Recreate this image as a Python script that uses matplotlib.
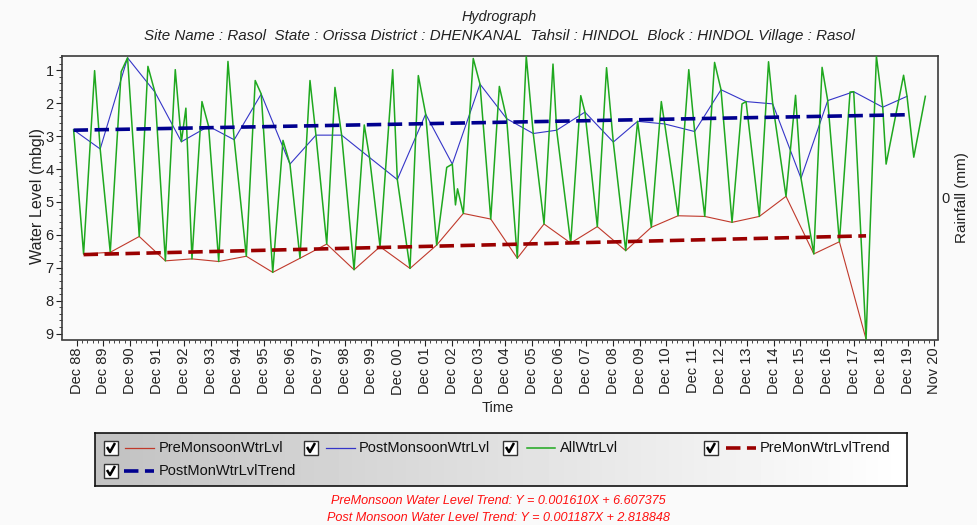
import numpy as np
import pandas as pd
import matplotlib
matplotlib.use("Agg")
import matplotlib.pyplot as plt
from matplotlib.lines import Line2D
from matplotlib.patches import Rectangle

# ---------------- data ----------------
post_dates = ["1988-10-21", "1989-10-18", "1990-10-26", "1991-11-02", "1992-10-29", "1993-11-03",
              "1994-10-18", "1995-10-21", "1996-11-16", "1997-11-05", "1998-10-21", "1999-11-05",
              "2000-11-18", "2001-12-09", "2002-12-07", "2003-12-19", "2004-12-17", "2005-12-14",
              "2006-10-29", "2007-11-18", "2008-12-09", "2009-11-05", "2010-11-09", "2011-12-22",
              "2012-12-16", "2013-11-22", "2014-11-20", "2015-12-10", "2016-12-09", "2017-11-28",
              "2018-12-28", "2019-11-24"]
post_vals = [2.81, 3.39, 0.62, 1.66, 3.17, 2.70, 3.11, 1.72, 3.85, 2.97, 2.97, 3.65,
             4.32, 2.33, 3.85, 1.42, 2.47, 2.92, 2.82, 2.27, 3.18, 2.55, 2.63, 2.86,
             1.59, 1.95, 2.02, 4.28, 1.92, 1.65, 2.12, 1.79]

pre_dates = ["1989-03-06", "1990-03-04", "1991-04-03", "1992-03-24", "1993-03-22", "1994-03-21",
             "1995-04-01", "1996-03-26", "1997-04-02", "1998-04-01", "1999-04-08", "2000-03-27",
             "2001-05-10", "2002-05-08", "2003-05-06", "2004-05-14", "2005-05-11", "2006-05-10",
             "2007-05-08", "2008-05-05", "2009-05-27", "2010-05-11", "2011-05-10", "2012-05-08",
             "2013-05-15", "2014-05-22", "2015-05-20", "2016-06-02", "2017-05-17", "2018-05-15"]
pre_vals = [6.58, 6.53, 6.05, 6.79, 6.73, 6.81, 6.65, 7.14, 6.71, 6.28, 7.06, 6.36,
            7.02, 6.31, 5.35, 5.52, 6.71, 5.67, 6.25, 5.75, 6.48, 5.77, 5.42, 5.44,
            5.62, 5.44, 4.83, 6.58, 6.21, 9.17]

# other readings that appear only in the AllWtrLvl series
other_dates = ["1989-08-03", "1990-07-31", "1991-07-30", "1992-08-06", "1992-12-29", "1993-08-05",
               "1994-07-25", "1995-07-31", "1996-08-13", "1997-08-16", "1998-07-22", "1999-08-25",
               "2000-09-16", "2001-08-31", "2002-09-22", "2003-01-19", "2003-02-16", "2003-09-18",
               "2004-09-08", "2005-09-10", "2006-09-09", "2007-09-22", "2008-09-08", "2010-09-24",
               "2011-10-03", "2012-09-19", "2013-09-28", "2014-09-24", "2015-09-27", "2016-09-23",
               "2017-10-09", "2018-10-03", "2019-02-12", "2019-10-08", "2020-02-24", "2020-07-31"]
other_vals = [1.01, 1.04, 0.88, 0.98, 2.15, 1.95, 0.73, 1.31, 3.13, 1.31, 1.52, 2.66,
              0.98, 1.16, 3.95, 5.09, 4.60, 0.64, 1.49, 0.57, 0.81, 1.77, 0.92, 1.95,
              0.98, 0.76, 2.02, 0.74, 1.76, 0.91, 1.66, 0.57, 3.85, 1.15, 3.64, 1.79]

pre_trend_vals = [6.60, 6.03]
post_trend_vals = [2.82, 2.35]

tick_dates = [f"{y}-12-01" for y in range(1988, 2020)] + ["2020-11-30"]
tick_labels = [f"Dec {y % 100:02d}" for y in range(1988, 2020)] + ["Nov 20"]
y_ticks = [1, 2, 3, 4, 5, 6, 7, 8, 9]

legend_labels = ["PreMonsoonWtrLvl", "PostMonsoonWtrLvl", "AllWtrLvl",
                 "PreMonWtrLvlTrend", "PostMonWtrLvlTrend"]
title = "Hydrograph"
subtitle = ("Site Name : Rasol  State : Orissa District : DHENKANAL  Tahsil : HINDOL  "
            "Block : HINDOL Village : Rasol")
eq_lines = ["PreMonsoon Water Level Trend: Y = 0.001610X + 6.607375",
            "Post Monsoon Water Level Trend: Y = 0.001187X + 2.818848"]


def dec_year(dates):
    d = pd.to_datetime(pd.Series(dates))
    days = np.where(d.dt.is_leap_year, 366.0, 365.0)
    return (d.dt.year + (d.dt.dayofyear - 1) / days).to_numpy()


pre_x = dec_year(pre_dates)
post_x = dec_year(post_dates)
other_x = dec_year(other_dates)
all_x = np.concatenate([pre_x, post_x, other_x])
all_v = np.concatenate([pre_vals, post_vals, other_vals])
order = np.argsort(all_x)
all_x, all_v = all_x[order], all_v[order]
tick_x = dec_year(tick_dates)

# ---------------- style ----------------
W, H = 977, 525
BG = "#fafafa"
C_PRE = "#c0392b"
C_POST = "#3535c8"
C_ALL = "#1fa81f"
C_PRE_T = "#9a0000"
C_POST_T = "#00008f"
FONT = ["Liberation Sans", "DejaVu Sans"]
NARROW = ["Liberation Sans Narrow", "Liberation Sans", "DejaVu Sans"]
plt.rcParams["font.family"] = FONT

fig = plt.figure(figsize=(W / 100, H / 100), dpi=100, facecolor=BG)


def fx(px):
    return px / W


def fy(py):
    return 1 - py / H


L, R, T, B = 62, 937.7, 56, 339.5
ax = fig.add_axes([fx(L), fy(B), (R - L) / W, (B - T) / H])
ax.set_facecolor(BG)

ax.plot(pre_x, pre_vals, color=C_PRE, lw=0.8, zorder=2)
ax.plot(post_x, post_vals, color=C_POST, lw=0.8, zorder=2)
ax.plot(all_x, all_v, color=C_ALL, lw=1.1, zorder=3)
ax.plot([pre_x[0], pre_x[-1]], pre_trend_vals, color=C_PRE_T, lw=2.6,
        dashes=(4, 1.8), dash_capstyle="butt", zorder=4)
ax.plot([post_x[0], post_x[-1]], post_trend_vals, color=C_POST_T, lw=2.6,
        dashes=(4, 1.8), dash_capstyle="butt", zorder=4)

ax.set_xlim(1988.37, 2021.04)
ax.set_ylim(9.18, 0.565)
ax.set_yticks(y_ticks)
ax.set_yticklabels([str(v) for v in y_ticks])
ax.set_yticks(np.arange(0.6, 9.2, 0.2), minor=True)
ax.set_xticks(tick_x)
ax.set_xticklabels(tick_labels, rotation=90, va="top", ha="center")
minor_x = np.concatenate([tick_x[i] + (tick_x[i + 1] - tick_x[i]) * np.arange(1, 5) / 5
                          for i in range(len(tick_x) - 1)])
ax.set_xticks(minor_x, minor=True)
ax.tick_params(axis="both", which="major", direction="out", length=4, width=0.8,
               labelsize=10.5, colors="#222222")
ax.tick_params(axis="both", which="minor", direction="out", length=2.2, width=0.7,
               colors="#444444")
ax.tick_params(axis="x", which="major", pad=2)
ax.tick_params(axis="y", which="major", pad=2)
for sp in ax.spines.values():
    sp.set_color("#3a3a3a")
    sp.set_linewidth(1.2)

ax2 = ax.twinx()
ax2.set_ylim(-1, 1)
ax2.set_yticks([0])
ax2.set_yticklabels(["0"])
ax2.tick_params(axis="y", length=0, pad=3, labelsize=10.5, colors="#222222")
for sp in ax2.spines.values():
    sp.set_visible(False)

# titles / axis labels
fig.text(fx(499), fy(17), title, ha="center", va="center", fontsize=10.4, style="italic",
         color="#222222")
fig.text(fx(499.5), fy(36), subtitle, ha="center", va="center", fontsize=10.9,
         style="italic", color="#222222")
fig.text(fx(38), fy(196), "Water Level (mbgl)", rotation=90, ha="center", va="center",
         fontsize=11.6, color="#222222")
fig.text(fx(962), fy(198), "Rainfall (mm)", rotation=90, ha="center", va="center",
         fontsize=11, color="#222222")
fig.text(fx(497.5), fy(408), "Time", ha="center", va="center", fontsize=10.5,
         color="#222222")

# ---------------- legend box ----------------
LX0, LX1, LY0, LY1 = 95, 907, 433, 486
lax = fig.add_axes([fx(LX0), fy(LY1), (LX1 - LX0) / W, (LY1 - LY0) / H])
lax.set_xlim(LX0, LX1)
lax.set_ylim(LY1, LY0)
grad = np.linspace(0.76, 1.0, 256)[None, :]
lax.imshow(grad, cmap="gray", vmin=0, vmax=1, extent=[LX0, LX1, LY1, LY0], aspect="auto",
           zorder=0)
lax.set_xticks([])
lax.set_yticks([])
for sp in lax.spines.values():
    sp.set_color("#111111")
    sp.set_linewidth(1.2)

entries = [  # (checkbox_x, row_y, line_x0, line_x1, text_x)
    (104, 448, 125, 154, 158.5),
    (304, 448, 326, 355, 359),
    (503, 448, 527, 555, 560),
    (704, 448, 726, 756, 760),
    (104, 471, 124, 154, 158.5),
]
styles = [
    dict(color=C_PRE, lw=0.9),
    dict(color=C_POST, lw=0.9),
    dict(color=C_ALL, lw=1.1),
    dict(color=C_PRE_T, lw=2.6, dashes=(4, 1.8), dash_capstyle="butt"),
    dict(color=C_POST_T, lw=2.6, dashes=(4, 1.8), dash_capstyle="butt"),
]
for (cx, ry, x0, x1, tx), st, lab in zip(entries, styles, legend_labels):
    lax.add_patch(Rectangle((cx, ry - 7), 14, 14, facecolor="white", edgecolor="#333333",
                            lw=1.0, zorder=2))
    lax.add_line(Line2D([cx + 3, cx + 6, cx + 11], [ry - 1, ry + 4, ry - 5], color="black",
                        lw=1.8, zorder=3, solid_capstyle="butt"))
    lax.add_line(Line2D([x0, x1], [ry, ry], zorder=3, **st))
    lax.text(tx, ry, lab, ha="left", va="center", fontsize=10.5, color="#111111", zorder=3)

# trend equations
for i, line in enumerate(eq_lines):
    fig.text(fx(498), fy(501 + 17 * i), line, ha="center", va="center", fontsize=9.1,
             style="italic", color="#ff1010", family=NARROW)

fig.savefig("out.png", dpi=100, facecolor=BG)
